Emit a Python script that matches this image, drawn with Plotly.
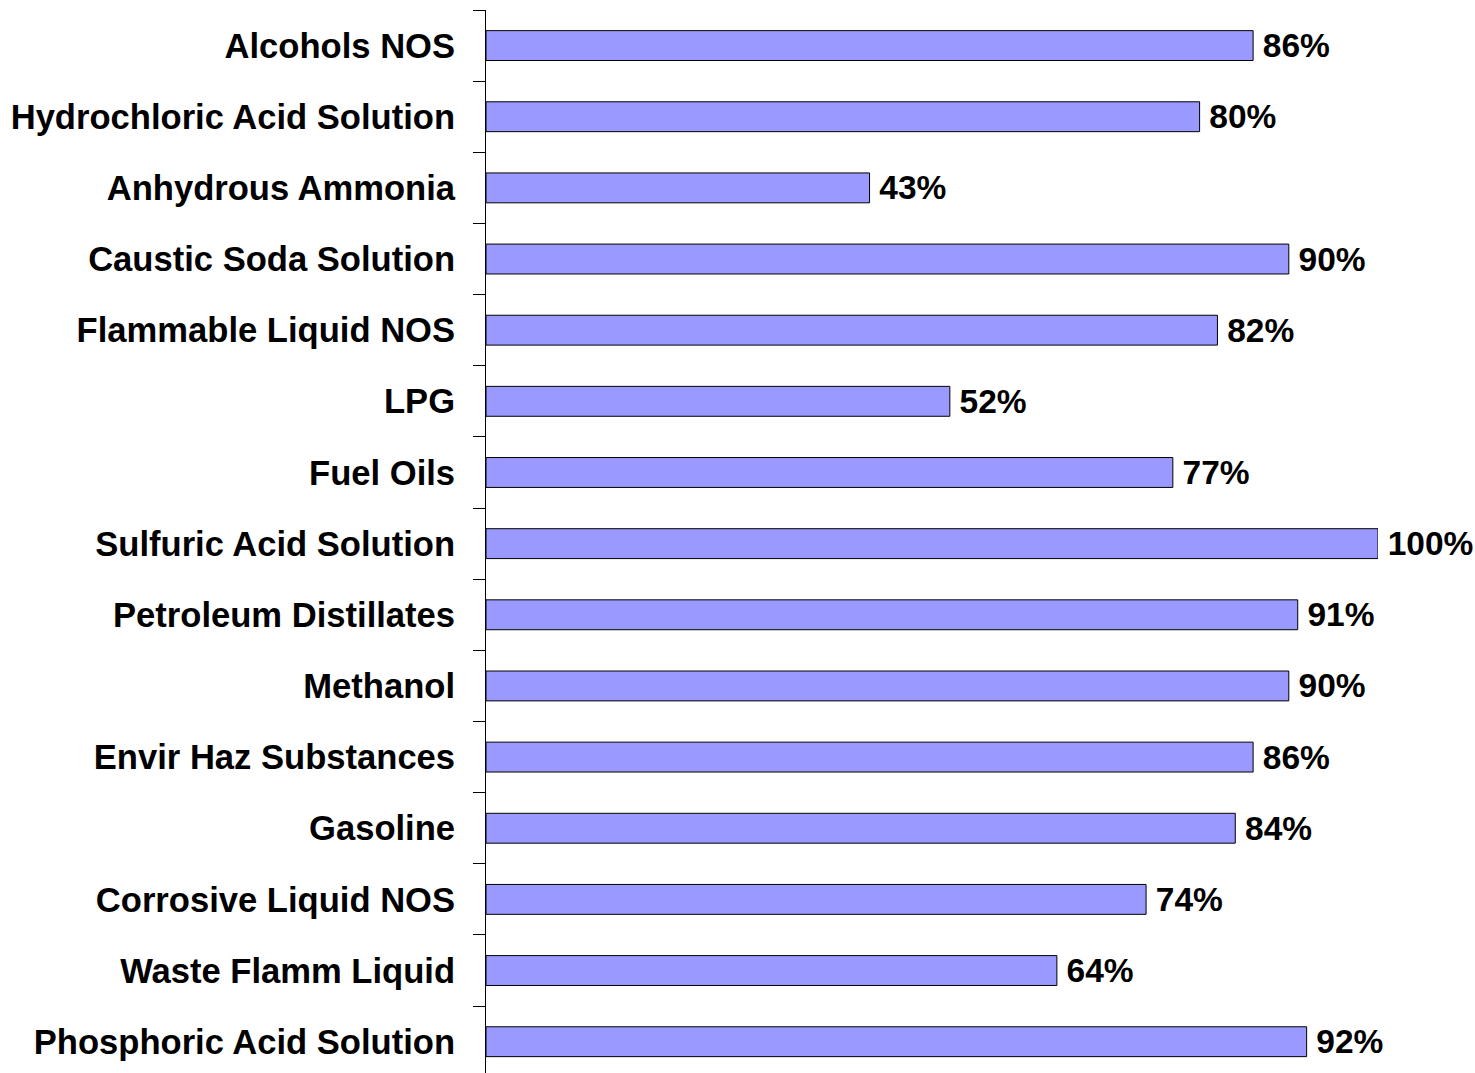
import plotly.graph_objects as go

# categories, top to bottom as shown
materials = ['Alcohols NOS', 'Hydrochloric Acid Solution', 'Anhydrous Ammonia',
             'Caustic Soda Solution', 'Flammable Liquid NOS', 'LPG', 'Fuel Oils',
             'Sulfuric Acid Solution', 'Petroleum Distillates', 'Methanol',
             'Envir Haz Substances', 'Gasoline', 'Corrosive Liquid NOS',
             'Waste Flamm Liquid', 'Phosphoric Acid Solution']
pct = [86, 80, 43, 90, 82, 52, 77, 100, 91, 90, 86, 84, 74, 64, 92]

fig = go.Figure()

fig.add_trace(
    go.Bar(
        x=pct,
        y=materials,
        orientation='h',
        marker=dict(color='#9999FF', line=dict(color='black', width=1)),
        text=pct,
        texttemplate='\u2009%{x}%',
        textposition='outside',
        constraintext='none',
        textfont=dict(family='Liberation Sans', size=33.5, color='black', weight='bold'),
        cliponaxis=False,
        showlegend=False))

layout = go.Layout(
    width=1475,
    height=1073,
    plot_bgcolor='white',
    paper_bgcolor='white',
    font=dict(family='Liberation Sans', size=34, color='black'),
    margin=dict(l=486, r=97, t=10, b=0),
    bargap=0.58,
    xaxis=dict(range=[0, 100], visible=False, showgrid=False, zeroline=False),
    yaxis=dict(
        categoryorder='array',
        categoryarray=materials,
        range=[14.44, -0.5],
        showline=True,
        linecolor='black',
        linewidth=1,
        ticks='outside',
        tickson='boundaries',
        ticklen=12,
        tickcolor='black',
        ticklabelstandoff=23,
        showgrid=False,
        zeroline=False,
        tickfont=dict(family='Liberation Sans', size=34.6, color='black', weight='bold')))

fig.update_layout(layout)

# drop the default 8px body margin so the figure fills the window exactly
fig.write_html("out.html", config={'displayModeBar': False},
               post_script="document.body.style.margin='0px';")
